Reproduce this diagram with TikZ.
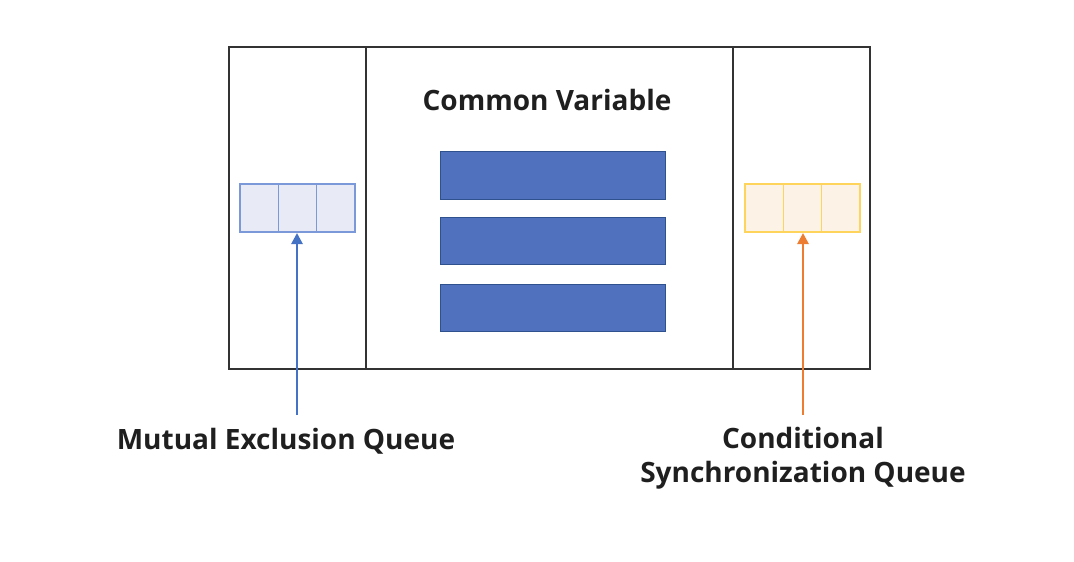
\documentclass[tikz,border=0pt]{standalone}
\usepackage{fontspec}
\setmainfont{Open Sans}
\usetikzlibrary{arrows.meta}
\definecolor{qblue}{HTML}{4472C4}
\definecolor{qbluefill}{HTML}{E8EBF5}
\definecolor{qbluedraw}{HTML}{7B98D8}
\definecolor{qorange}{HTML}{ED7D31}
\definecolor{qorangefill}{HTML}{FCF3E6}
\definecolor{qorangedraw}{HTML}{FFD45C}
\definecolor{barfill}{HTML}{4F71BE}
\definecolor{bardraw}{HTML}{2F528F}
\tikzset{
  frame/.style={draw=black!80, line width=1.2pt},
  bar/.style={draw=bardraw, fill=barfill, line width=0.8pt},
  bcell/.style={draw=qbluedraw, fill=qbluefill, line width=1.4pt},
  ocell/.style={draw=qorangedraw, fill=qorangefill, line width=1.4pt},
  lbl/.style={font=\fontsize{28}{34}\selectfont\bfseries, text=black!88, align=center, inner sep=0pt},
  barr/.style={draw=qblue, line width=2.6pt, -{Triangle[length=11pt,width=11pt]}},
  oarr/.style={draw=qorange, line width=2.6pt, -{Triangle[length=11pt,width=11pt]}}
}
\begin{document}
\begin{tikzpicture}[x=1pt,y=-1pt]
\useasboundingbox (0,0) rectangle (1074,562);
% outer frame
\draw[frame] (229,47) rectangle (870,369);
\draw[frame] (366,47) -- (366,369);
\draw[frame] (733,47) -- (733,369);
% title
\node[lbl] (cv) at (547,100) {Common Variable};
% bars
\draw[bar] (440,151) rectangle (665,199);
\draw[bar] (440,217) rectangle (665,264);
\draw[bar] (440,284) rectangle (665,331);
% left queue
\draw[bcell] (240,184) rectangle (278.3,232);
\draw[bcell] (278.3,184) rectangle (316.7,232);
\draw[bcell] (316.7,184) rectangle (355,232);
\coordinate (lq) at (297,233);
% right queue
\draw[ocell] (745,184) rectangle (783.3,232);
\draw[ocell] (783.3,184) rectangle (821.7,232);
\draw[ocell] (821.7,184) rectangle (860,232);
\coordinate (rq) at (803,233);
% labels
\coordinate (ls) at (297,415);
\coordinate (rs) at (803,415);
\node[lbl] (mq) at (286,441) {Mutual Exclusion Queue};
\node[lbl] (cq) at (803,458) {Conditional\\Synchronization Queue};
\draw[barr] (ls) -- (lq);
\draw[oarr] (rs) -- (rq);
\end{tikzpicture}
\end{document}
